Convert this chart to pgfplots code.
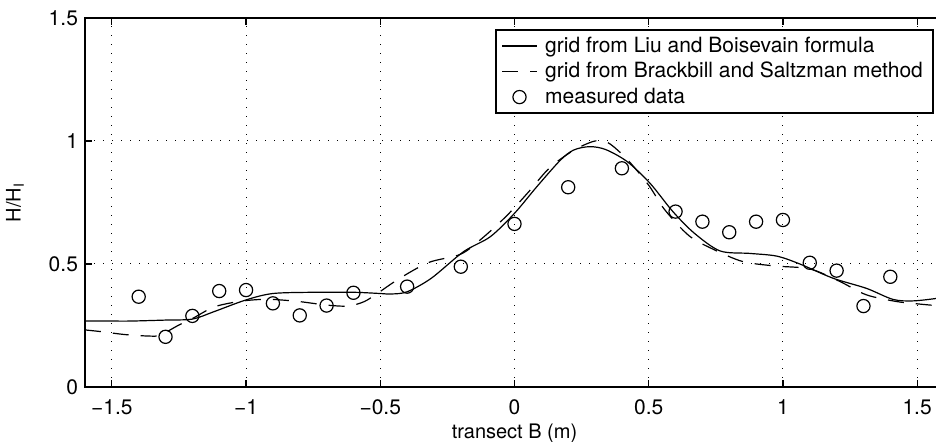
\documentclass[border=0pt]{standalone}
\usepackage{pgfplots}
\pgfplotsset{compat=1.18}
\usepackage{fontspec}
\setmainfont{TeX Gyre Heros}
\begin{document}
\begin{tikzpicture}
\begin{axis}[
  at={(0,0)}, anchor=south west,
  scale only axis, width=429.5pt, height=184.5pt,
  xmin=-1.6, xmax=1.6, ymin=0, ymax=1.5,
  xtick={-1.5,-1,-0.5,0,0.5,1,1.5},
  xticklabels={−1.5,−1,−0.5,0,0.5,1,1.5},
  ytick={0,0.5,1,1.5},
  yticklabels={0,0.5,1,1.5},
  /pgf/number format/assume math mode=true,
  tick pos=both, tick align=inside, major tick length=3.5pt,
  xticklabel style={yshift=-3pt},
  grid=major, grid style={black, line width=0.5pt, dash pattern=on 0.5pt off 4pt},
  axis line style={line width=0.8pt},
  tick style={line width=0.6pt, black},
  ticklabel style={font=\fontsize{10.5}{12.5}\selectfont},
  label style={font=\fontsize{10.5}{12.5}\selectfont},
  xlabel={transect B (m)}, ylabel={H/H\textsubscript{I}},
  every axis x label/.style={at={(axis description cs:0.5,0)}, yshift=-23pt, anchor=center},
  every axis y label/.style={at={(axis description cs:0,0.5)}, xshift=-35pt, rotate=90, anchor=center},
  legend cell align=left,
  legend style={at={(0.988,0.970)}, anchor=north east, draw=black, line width=0.8pt,
    font=\fontsize{10.5}{12.5}\selectfont, inner xsep=3pt, inner ysep=1.5pt, row sep=-0.5pt, column sep=2pt},
]
\addplot[black, line width=0.6pt, smooth, tension=0.5] coordinates {
(-1.6,0.268) (-1.5,0.268) (-1.43,0.268) (-1.3,0.272) (-1.2,0.276) (-1.12,0.306)
(-1.0,0.354) (-0.9,0.380) (-0.75,0.385) (-0.6,0.385) (-0.5,0.380) (-0.46,0.378)
(-0.4,0.387) (-0.31,0.442) (-0.19,0.550) (-0.09,0.611) (0.0,0.706) (0.083,0.814)
(0.17,0.921) (0.22,0.963) (0.28,0.977) (0.34,0.965) (0.42,0.916) (0.505,0.828)
(0.59,0.713) (0.67,0.625) (0.766,0.553) (0.877,0.543) (0.977,0.532) (1.063,0.500)
(1.187,0.442) (1.311,0.401) (1.41,0.356) (1.485,0.350) (1.572,0.360) (1.6,0.365)
};
\addlegendentry{grid from Liu and Boisevain formula}
\addplot[black, line width=0.6pt, dash pattern=on 8pt off 6pt, smooth, tension=0.5] coordinates {
(-1.6,0.232) (-1.54,0.225) (-1.45,0.213) (-1.36,0.207) (-1.32,0.211) (-1.25,0.252)
(-1.2,0.278) (-1.12,0.325) (-1.03,0.347) (-0.96,0.355) (-0.9,0.356) (-0.8,0.347)
(-0.7,0.333) (-0.62,0.329) (-0.56,0.347) (-0.51,0.381) (-0.43,0.440) (-0.32,0.506)
(-0.2,0.540) (-0.12,0.605) (-0.03,0.695) (0.05,0.790) (0.13,0.890) (0.22,0.962)
(0.3,1.0) (0.35,0.992) (0.42,0.925) (0.50,0.82) (0.56,0.72) (0.65,0.615)
(0.74,0.56) (0.85,0.51) (0.97,0.492) (1.1,0.48) (1.21,0.43) (1.31,0.375)
(1.42,0.348) (1.50,0.338) (1.6,0.328)
};
\addlegendentry{grid from Brackbill and Saltzman method}
\addplot[black, only marks, mark=o, mark size=3.3pt, mark options={line width=0.6pt}] coordinates {
(-1.4,0.367) (-1.3,0.204) (-1.2,0.289) (-1.1,0.390) (-1.0,0.394) (-0.9,0.340)
(-0.8,0.291) (-0.7,0.331) (-0.6,0.383) (-0.4,0.408) (-0.2,0.489) (0.0,0.663)
(0.2,0.812) (0.4,0.889) (0.6,0.713) (0.7,0.672) (0.8,0.629) (0.9,0.672)
(1.0,0.679) (1.1,0.505) (1.2,0.473) (1.3,0.329) (1.4,0.448)
};
\addlegendentry{measured data}
\end{axis}
\pgfresetboundingbox
\useasboundingbox (-42.5pt,-27.5pt) rectangle (425.5pt,193.5pt);
\end{tikzpicture}
\end{document}
